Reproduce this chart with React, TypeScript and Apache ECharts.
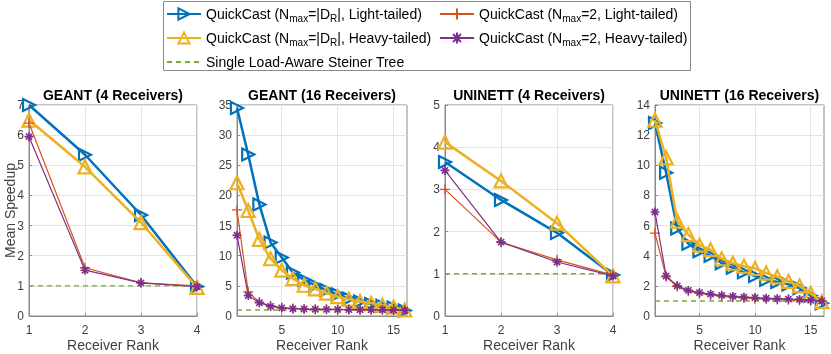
import React, { useEffect, useRef } from 'react';
import * as echarts from 'echarts';

const ranks4 = [1, 2, 3, 4];
const ranks16 = [1, 2, 3, 4, 5, 6, 7, 8, 9, 10, 11, 12, 13, 14, 15, 16];
const panelTitles = ['GEANT (4 Receivers)', 'GEANT (16 Receivers)', 'UNINETT (4 Receivers)', 'UNINETT (16 Receivers)'];
const yMax = [7, 35, 5, 14];
const yStep = [1, 5, 1, 2];
const xTicks16 = [5, 10, 15];

const geant4Light = [7.0, 5.35, 3.35, 0.98];
const geant4Heavy = [6.5, 4.95, 3.1, 0.95];
const geant4Light2 = [6.4, 1.6, 1.1, 1.0];
const geant4Heavy2 = [5.95, 1.52, 1.1, 0.97];

const geant16Light = [34.5, 26.8, 18.5, 12.2, 9.7, 7.2, 6.0, 5.1, 4.3, 3.6, 2.9, 2.4, 2.0, 1.7, 1.4, 0.9];
const geant16Heavy = [22.1, 17.5, 12.7, 9.5, 7.6, 6.2, 5.1, 4.5, 3.8, 3.2, 2.8, 2.4, 2.1, 1.8, 1.5, 1.0];
const geant16Light2 = [17.6, 4.0, 2.3, 1.7, 1.4, 1.25, 1.15, 1.12, 1.1, 1.08, 1.06, 1.05, 1.04, 1.03, 1.02, 1.0];
const geant16Heavy2 = [13.4, 3.4, 2.2, 1.6, 1.35, 1.2, 1.15, 1.12, 1.1, 1.08, 1.06, 1.05, 1.04, 1.03, 1.0, 0.95];

const uninett4Light = [3.65, 2.75, 1.97, 0.97];
const uninett4Heavy = [4.12, 3.2, 2.2, 0.95];
const uninett4Light2 = [3.0, 1.75, 1.33, 0.97];
const uninett4Heavy2 = [3.45, 1.75, 1.28, 0.95];

const uninett16Light = [12.8, 9.5, 5.8, 4.8, 4.3, 4.0, 3.5, 3.2, 2.9, 2.65, 2.4, 2.25, 2.1, 1.85, 1.35, 0.85];
const uninett16Heavy = [13.0, 10.5, 6.3, 5.4, 4.7, 4.4, 3.8, 3.5, 3.3, 3.15, 2.85, 2.6, 2.3, 2.0, 1.5, 0.95];
const uninett16Light2 = [5.5, 2.6, 1.95, 1.65, 1.5, 1.4, 1.3, 1.25, 1.2, 1.15, 1.12, 1.1, 1.08, 1.05, 1.02, 1.0];
const uninett16Heavy2 = [6.9, 2.65, 2.0, 1.7, 1.55, 1.45, 1.37, 1.3, 1.25, 1.22, 1.18, 1.15, 1.12, 1.1, 1.05, 1.0];

const baseline = 1;

const NAME_BLUE = 'QuickCast (Nmax=|DR|, Light-tailed)';
const NAME_RED = 'QuickCast (Nmax=2, Light-tailed)';
const NAME_YELLOW = 'QuickCast (Nmax=|DR|, Heavy-tailed)';
const NAME_PURPLE = 'QuickCast (Nmax=2, Heavy-tailed)';
const NAME_GREEN = 'Single Load-Aware Steiner Tree';

const richNames: Record<string, string> = {
  [NAME_BLUE]: 'QuickCast (N{sub|max}=|D{sub|R}|, Light-tailed)',
  [NAME_RED]: 'QuickCast (N{sub|max}=2, Light-tailed)',
  [NAME_YELLOW]: 'QuickCast (N{sub|max}=|D{sub|R}|, Heavy-tailed)',
  [NAME_PURPLE]: 'QuickCast (N{sub|max}=2, Heavy-tailed)',
  [NAME_GREEN]: 'Single Load-Aware Steiner Tree',
};

const BLUE = '#0072BD';
const RED = '#D95319';
const YELLOW = '#EDB120';
const PURPLE = '#7E2F8E';
const GREEN = '#77AC30';
const FONT = "'Liberation Sans', Arial, Helvetica, sans-serif";

const PLUS = 'path://M5,0L5,10M0,5L10,5';
const STAR = 'path://M5,0L5,10M0,5L10,5M1.5,1.5L8.5,8.5M1.5,8.5L8.5,1.5';

const grids = [
  { left: 29, width: 168 },
  { left: 237, width: 170 },
  { left: 445, width: 168 },
  { left: 655, width: 169 },
];

const panelData = [
  { x: ranks4, blue: geant4Light, yellow: geant4Heavy, red: geant4Light2, purple: geant4Heavy2 },
  { x: ranks16, blue: geant16Light, yellow: geant16Heavy, red: geant16Light2, purple: geant16Heavy2 },
  { x: ranks4, blue: uninett4Light, yellow: uninett4Heavy, red: uninett4Light2, purple: uninett4Heavy2 },
  { x: ranks16, blue: uninett16Light, yellow: uninett16Heavy, red: uninett16Light2, purple: uninett16Heavy2 },
];

function zip(x: number[], y: number[]) {
  return x.map((v, i) => [v, y[i]]);
}

export default function App() {
  const ref = useRef<HTMLDivElement>(null);
  useEffect(() => {
    if (!ref.current) return;
    const chart = echarts.init(ref.current, undefined, { renderer: 'svg' });

    const series: any[] = [];
    panelData.forEach((p, i) => {
      const common = { xAxisIndex: i, yAxisIndex: i, clip: false, animation: false };
      series.push({
        ...common,
        type: 'line',
        name: NAME_GREEN,
        data: zip([p.x[0], p.x[p.x.length - 1]], [baseline, baseline]),
        symbol: 'none',
        lineStyle: { color: GREEN, width: 1.4, type: [5, 4] },
        itemStyle: { color: GREEN },
        z: 1,
      });
      series.push({
        ...common,
        type: 'line',
        name: NAME_BLUE,
        data: zip(p.x, p.blue),
        symbol: 'triangle',
        symbolRotate: -90,
        symbolSize: 12,
        lineStyle: { color: BLUE, width: 2.5 },
        itemStyle: { color: 'rgba(255,255,255,0)', borderColor: BLUE, borderWidth: 2.2 },
        z: 3,
      });
      series.push({
        ...common,
        type: 'line',
        name: NAME_YELLOW,
        data: zip(p.x, p.yellow),
        symbol: 'triangle',
        symbolSize: 13,
        lineStyle: { color: YELLOW, width: 2.5 },
        itemStyle: { color: 'rgba(255,255,255,0)', borderColor: YELLOW, borderWidth: 2.2 },
        z: 4,
      });
      series.push({
        ...common,
        type: 'line',
        name: NAME_RED,
        data: zip(p.x, p.red),
        symbol: PLUS,
        symbolSize: 10,
        lineStyle: { color: RED, width: 1.2 },
        itemStyle: { color: RED, borderColor: RED, borderWidth: 1.3 },
        z: 5,
      });
      series.push({
        ...common,
        type: 'line',
        name: NAME_PURPLE,
        data: zip(p.x, p.purple),
        symbol: STAR,
        symbolSize: 9,
        lineStyle: { color: PURPLE, width: 1.2 },
        itemStyle: { color: PURPLE, borderColor: PURPLE, borderWidth: 1.6 },
        z: 6,
      });
    });

    const axisColor = '#8a8a8a';
    const labelColor = '#404040';

    const xAxes = grids.map((g, i) => {
      const is16 = i === 1 || i === 3;
      const base: any = {
        type: 'value',
        gridIndex: i,
        min: 1,
        max: is16 ? 16.2 : 4,
        name: 'Receiver Rank',
        nameLocation: 'middle',
        nameGap: 22,
        nameMoveOverlap: false,
        nameTextStyle: { fontSize: 14, lineHeight: 14, color: labelColor, fontFamily: FONT },
        axisLine: { show: true, lineStyle: { color: axisColor, width: 1 } },
        axisTick: { show: true, inside: true, length: 3, lineStyle: { color: axisColor } },
        axisLabel: { color: labelColor, fontSize: 12, fontFamily: FONT, margin: 8 },
        splitLine: { show: true, lineStyle: { color: '#e3e3e3', width: 1 } },
      };
      if (is16) {
        base.axisTick.customValues = xTicks16;
        base.axisLabel.customValues = xTicks16;
      } else {
        base.interval = 1;
      }
      return base;
    });

    const yAxes = grids.map((g, i) => ({
      type: 'value',
      gridIndex: i,
      min: 0,
      max: yMax[i],
      interval: yStep[i],
      name: i === 0 ? 'Mean Speedup' : '',
      nameLocation: 'middle',
      nameGap: 12,
      nameMoveOverlap: false,
      nameTextStyle: { fontSize: 14, lineHeight: 14, color: labelColor, fontFamily: FONT },
      axisLine: { show: true, lineStyle: { color: axisColor, width: 1 } },
      axisTick: { show: true, inside: true, length: 3, lineStyle: { color: axisColor } },
      axisLabel: { color: labelColor, fontSize: 12, fontFamily: FONT, margin: 5 },
      splitLine: { show: true, lineStyle: { color: '#e3e3e3', width: 1 } },
    }));

    const legendText = {
      fontSize: 14,
      color: '#000',
      fontFamily: FONT,
      rich: {
        sub: { fontSize: 10, fontFamily: FONT, color: '#000', padding: [8, 0, 0, 0] },
      },
    };

    chart.setOption({
      animation: false,
      grid: grids.map((g) => ({
        left: g.left,
        width: g.width,
        top: 105,
        height: 211,
        outerBoundsMode: 'none',
        containLabel: false,
        show: true,
        borderColor: axisColor,
        borderWidth: 1,
        backgroundColor: '#fff',
      })),
      xAxis: xAxes,
      yAxis: yAxes,
      legend: [
        {
          orient: 'vertical',
          left: 166,
          top: 0,
          padding: [7, 0, 0, 0],
          itemWidth: 34,
          itemHeight: 14,
          itemGap: 8,
          selectedMode: false,
          data: [NAME_BLUE, NAME_YELLOW, { name: NAME_GREEN, itemStyle: { opacity: 0 } }],
          formatter: (n: string) => richNames[n],
          textStyle: legendText,
        },
        {
          orient: 'vertical',
          left: 439,
          top: 0,
          padding: [7, 0, 0, 0],
          itemWidth: 34,
          itemHeight: 14,
          itemGap: 8,
          selectedMode: false,
          data: [NAME_RED, NAME_PURPLE],
          formatter: (n: string) => richNames[n],
          textStyle: legendText,
        },
      ],
      graphic: [
        {
          type: 'rect',
          silent: true,
          z: -1,
          shape: { x: 163.5, y: 1.5, width: 527, height: 69 },
          style: { fill: 'none', stroke: '#8a8a8a', lineWidth: 1 },
        },
        ...grids.map((g, i) => ({
          type: 'text',
          x: g.left + g.width / 2,
          y: 95,
          style: {
            text: panelTitles[i],
            align: 'center',
            verticalAlign: 'middle',
            fontSize: 14,
            fontWeight: 'bold',
            fontFamily: FONT,
            fill: '#000',
          },
        })),
      ],
      series,
    });
    return () => chart.dispose();
  }, []);
  return <div ref={ref} style={{ position: 'fixed', left: 0, top: 0, width: 831, height: 354 }} />;
}
